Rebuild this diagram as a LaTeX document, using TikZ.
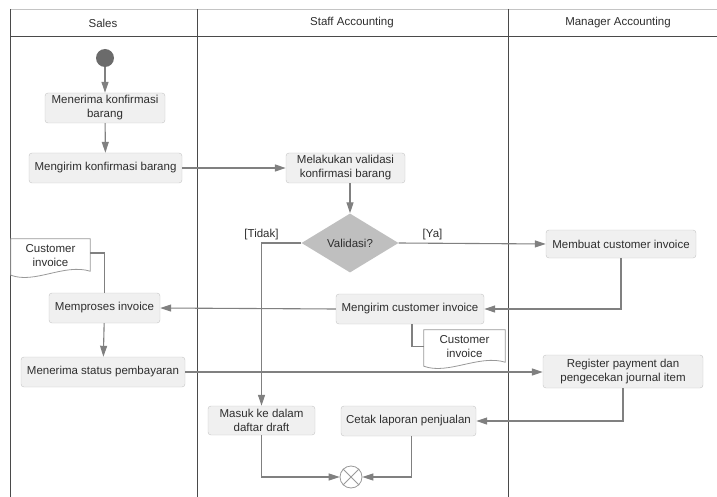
\documentclass[tikz,border=0pt]{standalone}
\usepackage{fontspec}
\setmainfont{Liberation Sans}
\usetikzlibrary{arrows.meta,shapes.geometric}

\definecolor{garis}{HTML}{808080}
\definecolor{kotak}{HTML}{F0F0F0}
\definecolor{tepi}{HTML}{C4C4C4}
\definecolor{teks}{HTML}{2E2E2E}
\definecolor{jalur}{HTML}{4A4A4A}

\begin{document}
\begin{tikzpicture}[x=1pt,y=-1pt,>={Triangle[length=11pt,width=7pt]},
    font=\fontsize{11.5}{14}\selectfont,text=teks,
    aksi/.style={draw=tepi,fill=kotak,rounded corners=3pt,align=center,
      inner sep=0pt,minimum height=30pt},
    dok/.style={align=center,inner sep=0pt},
    alur/.style={draw=garis,line width=1.1pt}]

    \useasboundingbox (0,0) rectangle (717,497);

    % lanes
    \draw [draw=tepi,line width=0.8pt] (10,9) -- (717,9);
    \draw [jalur,line width=1pt] (10,37) -- (717,37);
    \draw [jalur,line width=1pt] (10,9) -- (10,497);
    \draw [jalur,line width=1pt] (197,9) -- (197,497);
    \draw [jalur,line width=1pt] (508,9) -- (508,497);
    \node (lsales) at (103,23) {Sales};
    \node (lstaff) at (352,23) {Staff Accounting};
    \node (lmanager) at (618,23) {Manager Accounting};

    % sales
    \fill [fill=black!58] (105,58) circle [radius=9];
    \coordinate (mulai) at (105,67);
    \node [aksi,minimum width=120pt] (terima) at (105,108) {Menerima konfirmasi\\barang};
    \node [aksi,minimum width=153pt] (kirim) at (105.5,168) {Mengirim konfirmasi barang};
    \node [dok,minimum width=79pt,minimum height=33pt] (docsales) at (50.5,255.5) {Customer\\invoice};
    \node [aksi,minimum width=111pt] (proses) at (104.5,308) {Memproses invoice};
    \node [aksi,minimum width=164pt] (status) at (103,372) {Menerima status pembayaran};

    % staff accounting
    \node [aksi,minimum width=119pt] (validasi) at (345.5,168) {Melakukan validasi\\konfirmasi barang};
    \node [diamond,fill=black!25,inner sep=0pt,minimum width=97pt,minimum height=59pt] (cek) at (350,243) {Validasi?};
    \node [aksi,minimum width=148pt] (kiriminv) at (410,309) {Mengirim customer invoice};
    \node [dok,minimum width=81pt,minimum height=33pt] (docstaff) at (464.5,346.5) {Customer\\invoice};
    \node [aksi,minimum width=107pt,minimum height=29pt] (draft) at (261.5,420.5) {Masuk ke dalam\\daftar draft};
    \node [aksi,minimum width=135pt] (cetak) at (408.5,421) {Cetak laporan penjualan};
    \node [circle,draw=garis!80,fill=white,line width=0.8pt,minimum size=22pt,inner sep=0pt] (akhir) at (351,477) {};
    \draw [garis!80,line width=0.8pt] (akhir.north west) -- (akhir.south east);
    \draw [garis!80,line width=0.8pt] (akhir.north east) -- (akhir.south west);

    % manager accounting
    \node [aksi,minimum width=150pt,minimum height=28pt] (buat) at (621,244) {Membuat customer invoice};
    \node [aksi,minimum width=160pt,minimum height=33pt] (register) at (623,371.5) {Register payment dan\\pengecekan journal item};

    % documents
    \draw [draw=garis!80,fill=white,line width=0.8pt] (docsales.north west) -- (docsales.north east) -- ([yshift=1pt]docsales.south east)
        .. controls +(-26,-8) and +(24,9) .. ([yshift=-3pt]docsales.south west) -- cycle;
    \draw [draw=garis!80,fill=white,line width=0.8pt] (docstaff.north west) -- (docstaff.north east) -- ([yshift=1pt]docstaff.south east)
        .. controls +(-26,-8) and +(24,9) .. ([yshift=-3pt]docstaff.south west) -- cycle;
    \node [dok] at (docsales) {Customer\\invoice};
    \node [dok] at (docstaff) {Customer\\invoice};

    % flows
    \draw [alur,->] (mulai) -- (terima);
    \draw [alur,->] (terima) -- (kirim);
    \draw [alur,->] (kirim) -- (validasi);
    \draw [alur,->] (cek.north |- validasi.south) -- (cek.north);
    \draw [alur,->] (cek.east) -- node [pos=0.23,above=-1pt] {[Ya]} (buat.west);
    \draw [alur,->] (cek.west) -| node [pos=0.5,above=-1pt] {[Tidak]} (draft.north);
    \draw [alur,->] (buat.south) |- (kiriminv.east);
    \draw [alur,->] (kiriminv.west) -- (proses.east);
    \draw [alur] (kiriminv.south) ++(2,0) |- (docstaff.west);
    \draw [alur] (docsales.east |- 0,253) -| (proses.north);
    \draw [alur,->] (proses) -- (status);
    \draw [alur,->] (status.east) -- (register.west |- status.east);
    \draw [alur,->] (register.south) |- (cetak.east);
    \draw [alur,->] (draft.south) |- (akhir.west);
    \draw [alur,->] (cetak.south) ++(3,0) |- (akhir.east);

\end{tikzpicture}
\end{document}
